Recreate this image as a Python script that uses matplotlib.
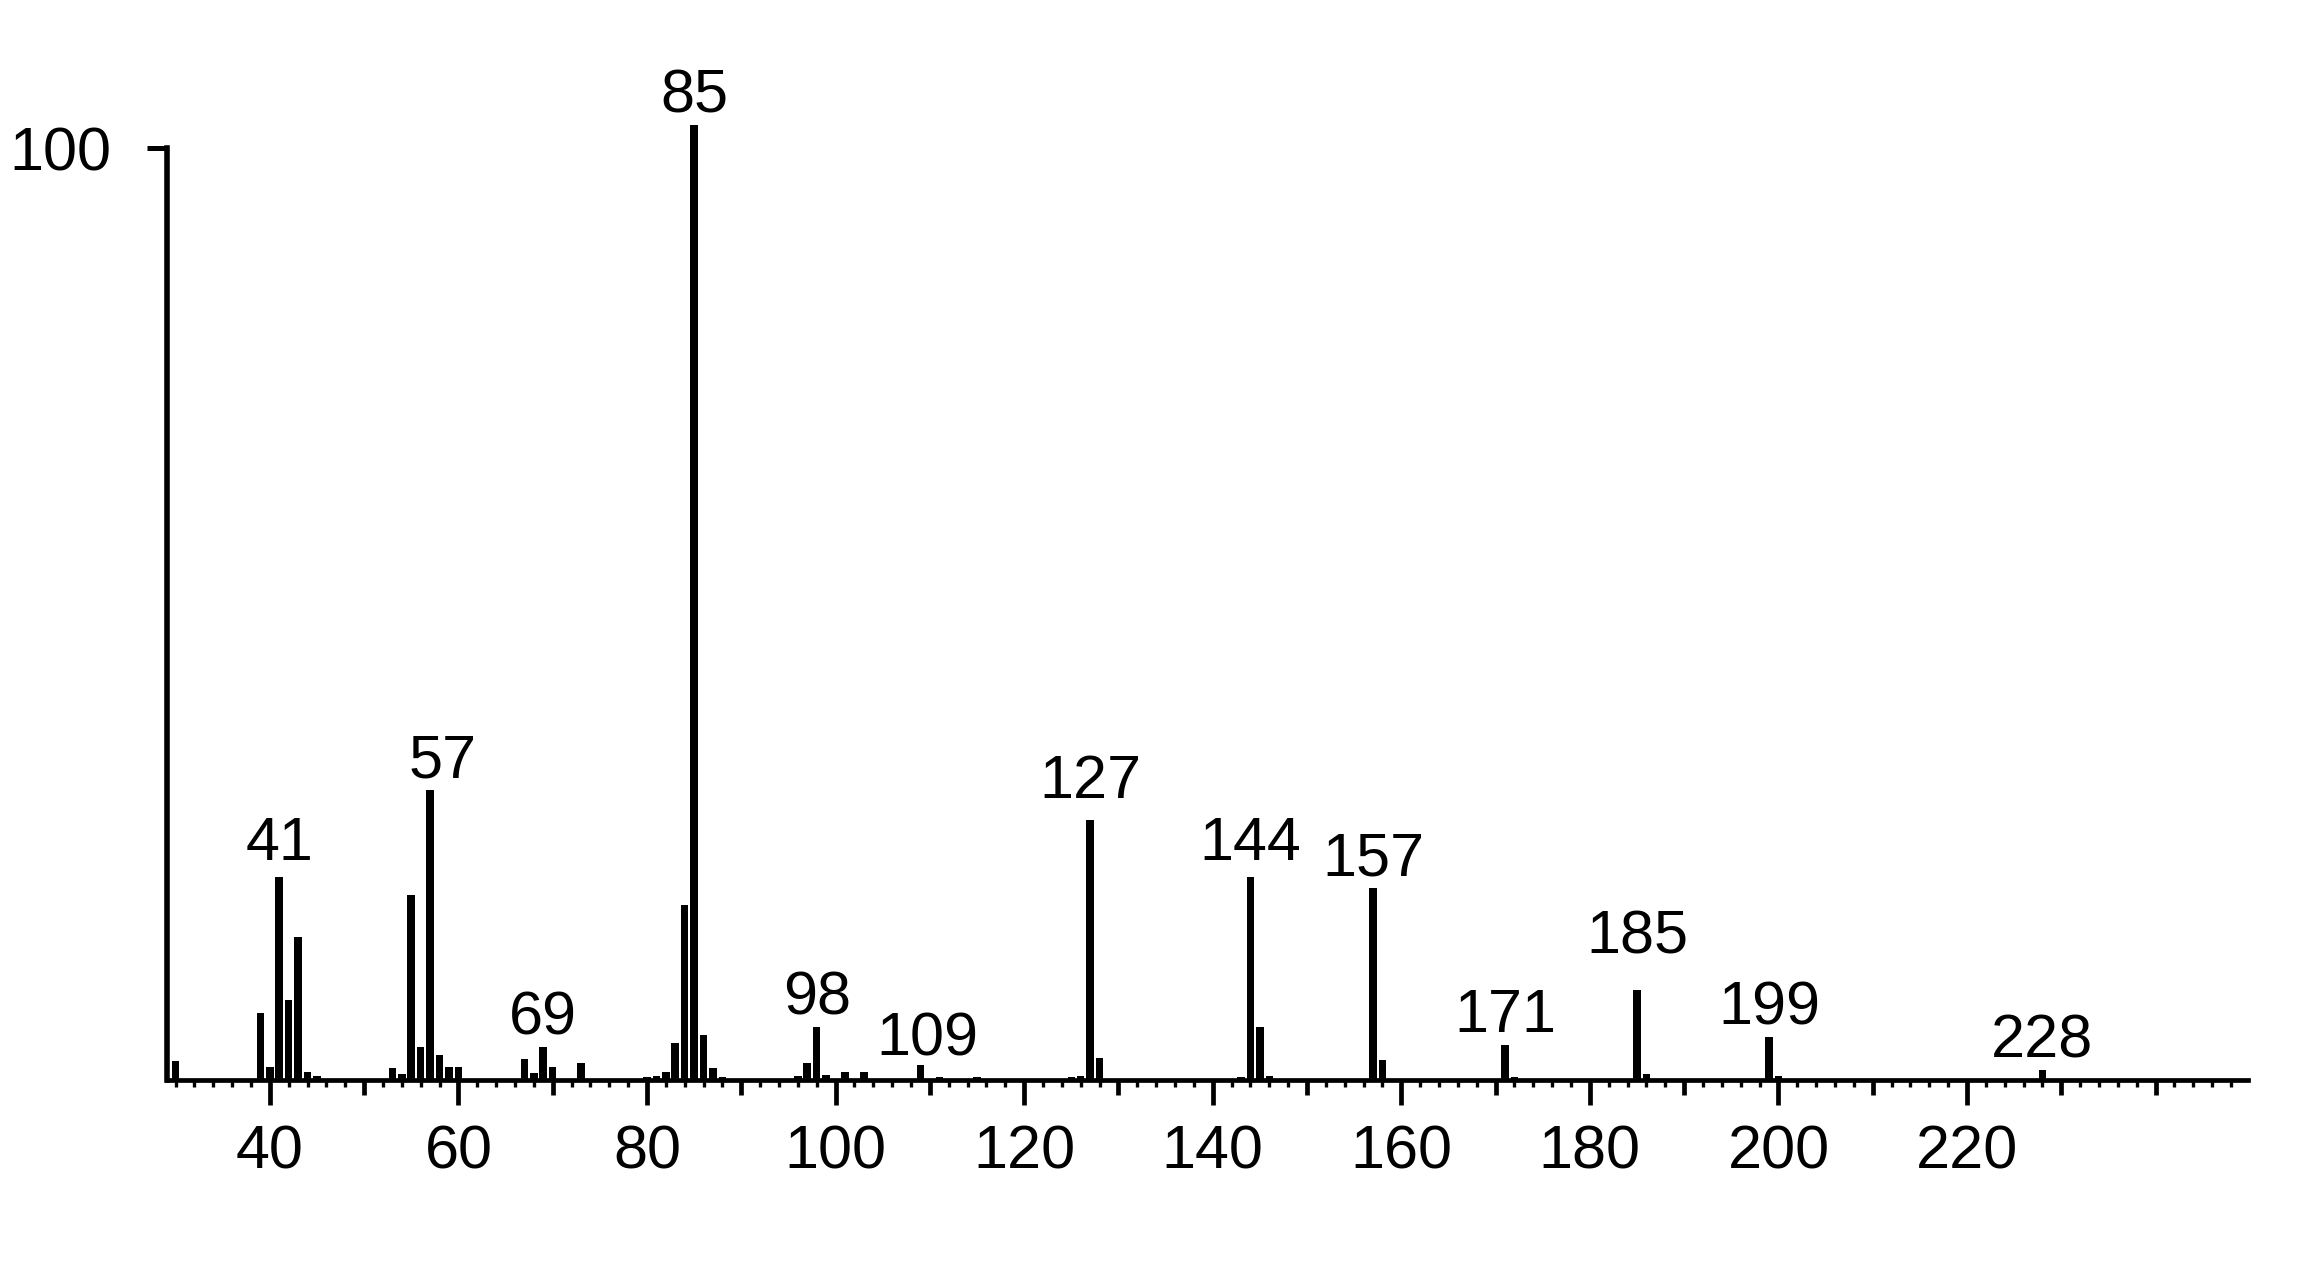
import numpy as np
import matplotlib.pyplot as plt
from matplotlib.ticker import FixedLocator, FixedFormatter

plt.rcParams['font.family'] = ['Liberation Sans', 'DejaVu Sans']

# m/z and relative intensity
mz = [30, 39, 40, 41, 42, 43, 44, 45, 53, 54, 55, 56, 57, 58, 59, 60,
      67, 68, 69, 70, 73, 80, 81, 82, 83, 84, 85, 86, 87, 88,
      96, 97, 98, 99, 101, 103, 109, 111, 115, 125, 126, 127, 128,
      143, 144, 145, 146, 157, 158, 171, 172, 185, 186, 199, 200, 228]
intensity = [2.0, 7.2, 1.4, 21.8, 8.6, 15.3, 0.9, 0.4, 1.3, 0.6, 19.8, 3.5, 31.1, 2.7, 1.4, 1.4,
             2.3, 0.8, 3.5, 1.4, 1.8, 0.3, 0.4, 0.9, 4.0, 18.8, 102.5, 4.8, 1.3, 0.3,
             0.4, 1.8, 5.7, 0.5, 0.9, 0.9, 1.6, 0.3, 0.3, 0.3, 0.4, 27.9, 2.4,
             0.3, 21.8, 5.7, 0.4, 20.6, 2.1, 3.8, 0.3, 9.7, 0.6, 4.6, 0.4, 1.1]

labelled = [41, 57, 69, 85, 98, 109, 127, 144, 157, 171, 185, 199, 228]

xticks = [40, 50, 60, 70, 80, 90, 100, 110, 120, 130, 140, 150, 160,
          170, 180, 190, 200, 210, 220, 230, 240]
xtick_labels = ['40', '', '60', '', '80', '', '100', '', '120', '', '140', '', '160',
                '', '180', '', '200', '', '220', '', '']

FS = 44

fig = plt.figure(figsize=(23.04, 12.64), dpi=100)
ax = fig.add_axes([0.0725, 0.1456, 0.9032, 0.7373])

ax.bar(mz, intensity, width=0.8, color='black', linewidth=0, clip_on=False)

# peak labels (small nudges where the original label sits off-centre)
nudge = {41: (0, 12), 57: (9, 9), 109: (5, 7), 127: (0, 16), 144: (0, 12), 185: (0, 26)}
lookup = dict(zip(mz, intensity))
for m in labelled:
    dx, dy = nudge.get(m, (0, 9))
    ax.annotate(str(m), xy=(m, lookup[m]), xytext=(dx, dy),
                textcoords='offset points', ha='center', va='baseline',
                fontsize=FS, annotation_clip=False)

ax.set_xlim(29.1, 249.8)
ax.set_ylim(0, 100)

for s in ['top', 'right']:
    ax.spines[s].set_visible(False)
ax.spines['left'].set_linewidth(4.0)
ax.spines['bottom'].set_linewidth(3.4)

ax.xaxis.set_major_locator(FixedLocator(xticks))
ax.xaxis.set_major_formatter(FixedFormatter(xtick_labels))
ax.xaxis.set_minor_locator(FixedLocator(np.arange(30, 250, 2)))
ax.tick_params(axis='x', which='major', length=18, width=3.4, pad=14, labelsize=FS)
ax.tick_params(axis='x', which='minor', length=5, width=2.4)
for t, v in zip(ax.xaxis.get_major_ticks(), xticks):
    if v % 20 != 0 or v > 220:
        t.tick1line.set_markersize(11)

ax.set_yticks([100])
ax.set_yticklabels(['100'])
ax.tick_params(axis='y', length=14.4, width=3.6, pad=26, labelsize=FS)

fig.savefig('out.png', dpi=100, facecolor='white')
